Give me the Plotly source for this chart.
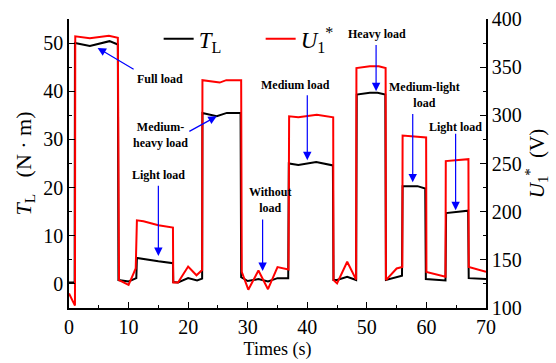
import plotly.graph_objects as go

# ---- data ----
t_T = [0, 0.95, 1.0, 3.5, 6.8, 8.2, 8.3, 10.0, 11.3, 11.4, 15.0, 17.45, 17.5, 18.3,
       20.0, 21.5, 22.35, 22.4, 24.8, 26.5, 28.8, 28.9, 30.0, 31.8, 33.4, 35.0,
       36.8, 36.9, 38.5, 41.5, 44.3, 44.4, 45.0, 46.7, 48.2, 48.3, 50.5, 51.8,
       53.1, 53.2, 55.9, 56.0, 58.5, 59.8, 59.9, 63.2, 63.3, 67.0, 67.1, 70.0]
T_L = [0.3, 0.3, 50.0, 49.4, 50.4, 49.7, 0.8, 0.5, 1.2, 5.4, 4.7, 4.3, 0.4, 0.3,
       1.2, 0.7, 1.1, 35.5, 34.8, 35.5, 35.5, 1.4, 0.6, 1.0, 0.5, 1.2,
       1.2, 25.0, 24.7, 25.3, 24.6, 0.8, 0.8, 1.5, 0.8, 39.3, 39.7, 39.7,
       39.3, 0.8, 1.7, 20.3, 20.3, 19.8, 1.0, 0.7, 14.7, 15.2, 1.2, 1.0]

t_U = [0, 1.0, 1.05, 3.5, 6.7, 8.2, 8.4, 10.0, 11.2, 11.4, 12.5, 15.0, 17.45, 17.5,
       18.3, 20.0, 21.4, 22.35, 22.4, 25.3, 26.4, 28.9, 29.0, 30.1, 31.8, 33.4,
       35.0, 36.85, 36.95, 38.5, 41.6, 44.35, 44.4, 45.0, 46.7, 48.2, 48.25, 50.5,
       52.0, 53.15, 53.2, 55.0, 55.95, 56.0, 59.95, 60.0, 63.2, 63.25, 67.05, 67.1, 70.0]
U1 = [115, 102.5, 382, 380, 382.5, 380.5, 129, 124, 141, 191, 190, 186, 183.5, 126.5,
      126.5, 143, 134, 139.5, 336.5, 334, 336.5, 336.5, 137.5, 119, 139, 119.5,
      142.5, 140, 299, 298, 300.5, 298, 129, 125.5, 148, 129.5, 349, 351,
      351, 349, 129, 141, 142.5, 279, 277, 137.5, 132.5, 252.5, 254.5, 142.5, 137.5]

top_ticks = [7, 14, 21, 28, 35, 42, 49, 56, 63]

# annotation labels and arrows, in left-axis units
labels = ["Full load", "Medium-<br>heavy load", "Light load", "Without<br>load",
          "Medium load", "Heavy load", "Medium-light<br>load", "Light load"]
label_x = [15.3, 15.3, 15.1, 33.7, 38.1, 51.7, 59.6, 64.8]
label_y = [42.6, 31.0, 22.6, 17.4, 41.4, 51.8, 39.3, 32.5]
tip_x = [4.8, 24.8, 15.0, 32.5, 40.0, 51.55, 57.7, 64.9]
tip_y = [49.0, 34.8, 5.8, 2.7, 25.7, 40.0, 21.1, 15.3]
tail_x = [11.1, 19.95, 15.0, 32.5, 40.0, 51.55, 57.7, 64.9]
tail_y = [44.4, 31.5, 20.7, 13.7, 39.5, 49.9, 35.6, 31.5]

FONT = "Liberation Serif"
NB = "\u00a0"

fig = go.Figure()
fig.add_trace(go.Scatter(x=t_T, y=T_L, mode="lines", name="<i>T</i><sub>L</sub>",
                         line=dict(color="black", width=2), yaxis="y"))
fig.add_trace(go.Scatter(x=t_U, y=U1, mode="lines", name="<i>U</i><sub>1</sub><sup>*</sup>",
                         line=dict(color="#FF0000", width=2), yaxis="y2"))

annos = []
for i in range(len(labels)):
    annos.append(dict(x=label_x[i], y=label_y[i], xref="x", yref="y", text="<b>" + labels[i] + "</b>",
                      showarrow=False, font=dict(family=FONT, size=12, color="black")))
    annos.append(dict(x=tip_x[i], y=tip_y[i], xref="x", yref="y", ax=tail_x[i], ay=tail_y[i],
                      axref="x", ayref="y", text="", showarrow=True, arrowhead=2, arrowsize=1.4,
                      arrowwidth=1.2, arrowcolor="#0000FF"))

axis_common = dict(showline=True, linecolor="black", linewidth=1.5, ticks="inside",
                   ticklen=6, tickwidth=1.2, tickcolor="black", showgrid=False, zeroline=False,
                   automargin=False,
                   tickfont=dict(family=FONT, size=20, color="black"))

fig.update_layout(
    width=556, height=363,
    margin=dict(l=69, r=70, t=19, b=55),
    paper_bgcolor="white", plot_bgcolor="white",
    font=dict(family=FONT, color="black"),
    xaxis=dict(range=[0, 70], dtick=10, tick0=0,
               minor=dict(ticks="inside", dtick=5, ticklen=3, tickcolor="black"),
               title=dict(text="Times (s)", font=dict(family=FONT, size=18), standoff=6),
               **axis_common),
    xaxis2=dict(range=[0, 70], overlaying="x", side="top", tickmode="array",
                tickvals=top_ticks, showticklabels=False, showline=True, linecolor="black",
                linewidth=1.5, ticks="inside", ticklen=5, tickwidth=1.2, tickcolor="black",
                showgrid=False, zeroline=False, automargin=False),
    yaxis=dict(range=[-5, 55], dtick=10, tick0=0,
               minor=dict(ticks="inside", dtick=5, ticklen=3, tickcolor="black"),
               title=dict(text="<i>T</i><sub>L</sub>" + NB * 3 + "(N" + NB + "·" + NB + "m)",
                          font=dict(family=FONT, size=22), standoff=6),
               **axis_common),
    yaxis2=dict(range=[100, 400], dtick=50, tick0=100, overlaying="y", side="right",
                minor=dict(ticks="inside", dtick=25, ticklen=3, tickcolor="black"),
                title=dict(text="<i>U</i><sub>1</sub><sup>*</sup>" + NB * 2 + "(V)",
                           font=dict(family=FONT, size=21), standoff=4),
                **axis_common),
    legend=dict(orientation="h", x=0.215, y=1.006, xanchor="left", yanchor="top",
                bgcolor="rgba(0,0,0,0)", font=dict(family=FONT, size=23),
                entrywidth=57, entrywidthmode="pixels"),
    annotations=annos,
)

fig.write_html("out.html", config={"displayModeBar": False},
               post_script="document.body.style.margin='0';document.body.style.overflow='hidden';")
